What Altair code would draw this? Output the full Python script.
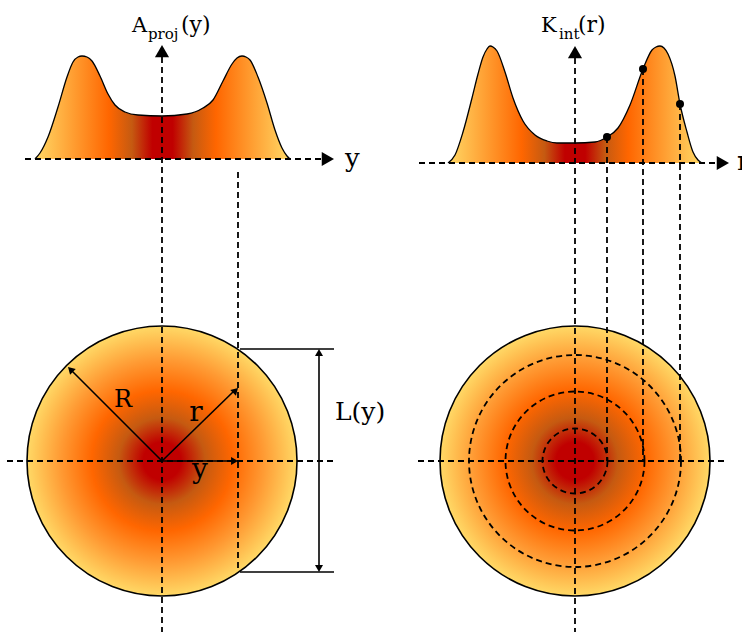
import math
import altair as alt
import pandas as pd

W, H = 742, 632

# ---- A_proj(y) profile (left panel) (pixel coords) ----
a_x = [35, 40, 48, 58, 67, 73, 78, 82, 87, 92, 100, 108, 115, 125, 138, 162, 187, 203, 213, 223,
       232, 237, 242, 246, 250, 258, 267, 275, 282, 287, 290]
a_y = [159, 153, 137, 107, 77, 62, 57, 56, 57, 61, 76, 94, 105, 112, 115, 116, 114, 108, 100, 81,
       64, 58, 56, 57, 60, 77, 103, 130, 148, 156, 159]
a_base = 159

# ---- K_int(r) profile (right panel) ----
k_x = [448, 455, 463, 472, 478, 483, 487, 490, 493, 497, 505, 513, 523, 535, 547, 557, 575, 595, 607, 618,
       630, 643, 652, 656, 660, 664, 668, 675, 680, 687, 693, 698, 702]
k_y = [163, 155, 132, 98, 74, 57, 49, 46, 47, 51, 72, 98, 121, 135, 141, 143, 143, 142, 137, 128,
       105, 69, 50, 47, 46, 48, 54, 76, 104, 132, 152, 160, 163]
k_base = 163
k_marked = [607, 643, 680]          # sampled radii (dots)

# ---- geometry of the schematic ----
centers_x = [162, 575]
centers_y = [461, 461]
R_big = 135
ring_r = [32.5, 69.5, 106]

dash_x = [7, 162, 25, 238, 418, 575, 419]
dash_y = [461, 57, 159, 172, 461, 58, 163]
dash_x2 = [335, 162, 322, 238, 728, 575, 716]
dash_y2 = [461, 632, 159, 572, 461, 632, 163]

solid_x = [240, 240, 319, 162, 162, 162]
solid_y = [349, 572, 352, 461, 461, 461]
solid_x2 = [334, 334, 319, 71, 234, 233]
solid_y2 = [349, 572, 569, 370, 391, 461]

head_tx = [162, 334, 575, 729, 68, 238, 238, 319, 319]
head_ty = [45, 159, 46, 163, 367, 388, 461, 349, 572]
head_ang = [0, 90, 0, 90, 315, 45, 90, 0, 180]
head_sz = [200, 200, 200, 200, 64, 64, 64, 64, 64]

txt_l = ["A", "proj", "(y)", "K", "int", "(r)", "L(y)", "y", "r"]
txt_l_x = [132, 148, 181, 541, 559, 578, 335, 345, 737]
txt_l_y = [32, 39, 32, 32, 39, 32, 420, 167, 170]
txt_l_fs = [21, 15, 22, 21, 15, 22, 25, 26, 26]

txt_c = ["R", "r", "y"]
txt_c_x = [123, 196, 200]
txt_c_y = [407, 421, 478]
txt_c_fs = [24, 28, 28]

FONT = "DejaVu Serif"

xs = alt.Scale(domain=[0, W], nice=False, zero=False)
ys = alt.Scale(domain=[0, H], reverse=True, nice=False, zero=False)


def X(f):
    return alt.X(f, type="quantitative", scale=xs, axis=None)


def Y(f):
    return alt.Y(f, type="quantitative", scale=ys, axis=None)


def stops(pairs):
    return [alt.GradientStop(offset=o, color=c) for o, c in pairs]


YEL, ORG, BRN, RED = "#ffd966", "#ff6600", "#c55a11", "#c00000"
lin = alt.LinearGradient(
    gradient="linear", x1=0, x2=1, y1=0, y2=0,
    stops=stops([(0, YEL), (0.29, ORG), (0.38, BRN), (0.46, RED), (0.54, RED),
                 (0.62, BRN), (0.71, ORG), (1, YEL)]))
rad = alt.RadialGradient(
    gradient="radial", x1=0.5, y1=0.5, r1=0, x2=0.5, y2=0.5, r2=0.5,
    stops=stops([(0, RED), (0.14, RED), (0.32, BRN), (0.52, ORG), (0.75, "#ff9a33"), (1, YEL)]))

prof_a = pd.DataFrame({"x": a_x, "y": a_y, "b": a_base, "p": "a"})
prof_k = pd.DataFrame({"x": k_x, "y": k_y, "b": k_base, "p": "k"})

area_a = alt.Chart(prof_a).mark_area(fill=lin, interpolate="monotone", opacity=1).encode(
    x=X("x"), y=Y("y"), y2="b")
area_k = alt.Chart(prof_k).mark_area(fill=lin, interpolate="monotone", opacity=1).encode(
    x=X("x"), y=Y("y"), y2="b")
line_a = alt.Chart(prof_a).mark_line(color="black", strokeWidth=1.3, interpolate="monotone").encode(
    x=X("x"), y=Y("y"))
line_k = alt.Chart(prof_k).mark_line(color="black", strokeWidth=1.3, interpolate="monotone").encode(
    x=X("x"), y=Y("y"))

disc = alt.Chart(pd.DataFrame({"x": centers_x, "y": centers_y})).mark_point(
    shape="circle", size=(2 * R_big) ** 2, filled=True, fill=rad, stroke="black",
    strokeWidth=1.6, opacity=1, strokeOpacity=1, fillOpacity=1).encode(x=X("x"), y=Y("y"))

rings = alt.Chart(pd.DataFrame({"x": centers_x[1], "y": centers_y[1],
                                "s": [(2 * r) ** 2 for r in ring_r]})).mark_point(
    shape="circle", filled=False, stroke="black", strokeWidth=1.8, strokeDash=[6, 4],
    opacity=1).encode(x=X("x"), y=Y("y"), size=alt.Size("s:Q", scale=None))

dashed = alt.Chart(pd.DataFrame({"x": dash_x + [v for v in k_marked],
                                 "y": dash_y + [k_y[k_x.index(v)] for v in k_marked],
                                 "x2": dash_x2 + k_marked,
                                 "y2": dash_y2 + [centers_y[1]] * len(k_marked)})).mark_rule(
    color="black", strokeWidth=1.8, strokeDash=[6, 4]).encode(
    x=X("x"), y=Y("y"), x2="x2", y2="y2")

solid = alt.Chart(pd.DataFrame({"x": solid_x, "y": solid_y, "x2": solid_x2, "y2": solid_y2})).mark_rule(
    color="black", strokeWidth=1.6).encode(x=X("x"), y=Y("y"), x2="x2", y2="y2")

hx, hy = [], []
for tx, ty, a, s in zip(head_tx, head_ty, head_ang, head_sz):
    h = math.sqrt(s) / 2 * math.sqrt(3) / 2
    th = math.radians(a)
    dx, dy = math.sin(th), -math.cos(th)
    hx.append(tx - h * dx)
    hy.append(ty - h * dy)
heads = alt.Chart(pd.DataFrame({"x": hx, "y": hy, "a": head_ang, "s": head_sz})).mark_point(
    shape="triangle-up", filled=True, color="black", opacity=1, strokeWidth=0).encode(
    x=X("x"), y=Y("y"), angle=alt.Angle("a:Q", scale=None), size=alt.Size("s:Q", scale=None))

dots = alt.Chart(pd.DataFrame({"x": k_marked, "y": [k_y[k_x.index(v)] for v in k_marked]})).mark_point(
    shape="circle", filled=True, color="black", size=64, opacity=1).encode(x=X("x"), y=Y("y"))

lab_l = alt.Chart(pd.DataFrame({"t": txt_l, "x": txt_l_x, "y": txt_l_y, "fs": txt_l_fs})).mark_text(
    align="left", baseline="alphabetic", font=FONT, color="black").encode(
    x=X("x"), y=Y("y"), text="t:N", size=alt.Size("fs:Q", scale=None))
lab_c = alt.Chart(pd.DataFrame({"t": txt_c, "x": txt_c_x, "y": txt_c_y, "fs": txt_c_fs})).mark_text(
    align="center", baseline="alphabetic", font=FONT, color="black").encode(
    x=X("x"), y=Y("y"), text="t:N", size=alt.Size("fs:Q", scale=None))

chart = alt.layer(area_a, area_k, disc, rings, dashed, line_a, line_k, solid, heads, dots,
                  lab_l, lab_c).properties(
    width=W, height=H, autosize=alt.AutoSizeParams(type="none"), padding=0
).configure_view(stroke=None)

chart.save("out.html", embed_options={"renderer": "svg", "actions": False})
